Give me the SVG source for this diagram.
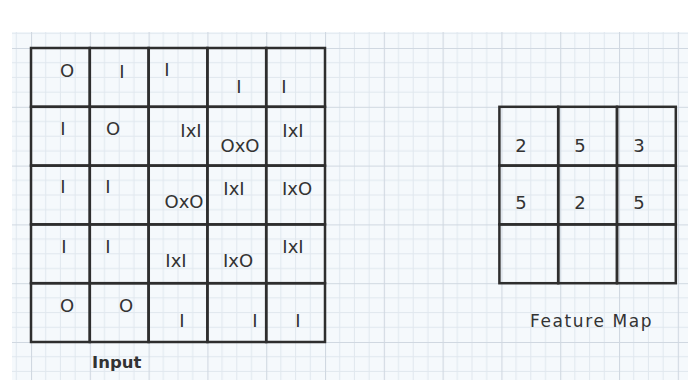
<svg xmlns="http://www.w3.org/2000/svg" width="688" height="380" viewBox="0 0 688 380">
<defs>
<pattern id="paper" x="31" y="48" width="58.8" height="58.8" patternUnits="userSpaceOnUse">
<path d="M14.7 0V58.8M29.4 0V58.8M44.1 0V58.8M0 14.7H58.8M0 29.4H58.8M0 44.1H58.8" stroke="#e0e7ee" stroke-width="1" fill="none"/>
<path d="M0.5 0V58.8M0 0.5H58.8" stroke="#d0d8e1" stroke-width="1.2" fill="none"/>
</pattern>
<style>
.cell{fill:none;stroke:#2e2e2e;stroke-width:2.5}
.t{font-family:"DejaVu Sans","Liberation Sans",sans-serif;font-size:18px;fill:#333;text-anchor:middle}
.lbl{font-family:"DejaVu Sans","Liberation Sans",sans-serif;fill:#333}
</style>
</defs>
<rect x="0" y="0" width="688" height="380" fill="#ffffff"/>
<rect x="12" y="32" width="676" height="348" fill="#f5f9fc"/>
<rect x="12" y="32" width="676" height="348" fill="url(#paper)"/>
<g id="connectors"/>
<g id="input">
<g id="in-r1c1"><rect class="cell" x="31" y="48" width="58.8" height="58.8"/><text class="t" x="67" y="77">O</text></g>
<g id="in-r1c2"><rect class="cell" x="89.8" y="48" width="58.8" height="58.8"/><text class="t" x="122" y="78">I</text></g>
<g id="in-r1c3"><rect class="cell" x="148.6" y="48" width="58.8" height="58.8"/><text class="t" x="167" y="76">I</text></g>
<g id="in-r1c4"><rect class="cell" x="207.4" y="48" width="58.8" height="58.8"/><text class="t" x="239" y="93">I</text></g>
<g id="in-r1c5"><rect class="cell" x="266.2" y="48" width="58.8" height="58.8"/><text class="t" x="284" y="93">I</text></g>
<g id="in-r2c1"><rect class="cell" x="31" y="106.8" width="58.8" height="58.8"/><text class="t" x="63" y="135">I</text></g>
<g id="in-r2c2"><rect class="cell" x="89.8" y="106.8" width="58.8" height="58.8"/><text class="t" x="113" y="135">O</text></g>
<g id="in-r2c3"><rect class="cell" x="148.6" y="106.8" width="58.8" height="58.8"/><text class="t" x="191" y="137">IxI</text></g>
<g id="in-r2c4"><rect class="cell" x="207.4" y="106.8" width="58.8" height="58.8"/><text class="t" x="240" y="152">OxO</text></g>
<g id="in-r2c5"><rect class="cell" x="266.2" y="106.8" width="58.8" height="58.8"/><text class="t" x="293" y="137">IxI</text></g>
<g id="in-r3c1"><rect class="cell" x="31" y="165.6" width="58.8" height="58.8"/><text class="t" x="63" y="193">I</text></g>
<g id="in-r3c2"><rect class="cell" x="89.8" y="165.6" width="58.8" height="58.8"/><text class="t" x="108" y="193">I</text></g>
<g id="in-r3c3"><rect class="cell" x="148.6" y="165.6" width="58.8" height="58.8"/><text class="t" x="184" y="208">OxO</text></g>
<g id="in-r3c4"><rect class="cell" x="207.4" y="165.6" width="58.8" height="58.8"/><text class="t" x="234" y="195">IxI</text></g>
<g id="in-r3c5"><rect class="cell" x="266.2" y="165.6" width="58.8" height="58.8"/><text class="t" x="297" y="195">IxO</text></g>
<g id="in-r4c1"><rect class="cell" x="31" y="224.4" width="58.8" height="58.8"/><text class="t" x="64" y="253">I</text></g>
<g id="in-r4c2"><rect class="cell" x="89.8" y="224.4" width="58.8" height="58.8"/><text class="t" x="108" y="253">I</text></g>
<g id="in-r4c3"><rect class="cell" x="148.6" y="224.4" width="58.8" height="58.8"/><text class="t" x="176" y="267">IxI</text></g>
<g id="in-r4c4"><rect class="cell" x="207.4" y="224.4" width="58.8" height="58.8"/><text class="t" x="238" y="267">IxO</text></g>
<g id="in-r4c5"><rect class="cell" x="266.2" y="224.4" width="58.8" height="58.8"/><text class="t" x="293" y="253">IxI</text></g>
<g id="in-r5c1"><rect class="cell" x="31" y="283.2" width="58.8" height="58.8"/><text class="t" x="67" y="312">O</text></g>
<g id="in-r5c2"><rect class="cell" x="89.8" y="283.2" width="58.8" height="58.8"/><text class="t" x="126" y="312">O</text></g>
<g id="in-r5c3"><rect class="cell" x="148.6" y="283.2" width="58.8" height="58.8"/><text class="t" x="182" y="327">I</text></g>
<g id="in-r5c4"><rect class="cell" x="207.4" y="283.2" width="58.8" height="58.8"/><text class="t" x="255" y="327">I</text></g>
<g id="in-r5c5"><rect class="cell" x="266.2" y="283.2" width="58.8" height="58.8"/><text class="t" x="298" y="327">I</text></g>
<text id="input-label" class="lbl" x="92" y="368" font-size="16.5" font-weight="bold">Input</text>
</g>
<g id="feature-map">
<g id="fm-r1c1"><rect class="cell" x="499.4" y="106.8" width="58.8" height="58.8"/><text class="t" x="521" y="152">2</text></g>
<g id="fm-r1c2"><rect class="cell" x="558.2" y="106.8" width="58.8" height="58.8"/><text class="t" x="580" y="152">5</text></g>
<g id="fm-r1c3"><rect class="cell" x="617" y="106.8" width="58.8" height="58.8"/><text class="t" x="639" y="152">3</text></g>
<g id="fm-r2c1"><rect class="cell" x="499.4" y="165.6" width="58.8" height="58.8"/><text class="t" x="521" y="209">5</text></g>
<g id="fm-r2c2"><rect class="cell" x="558.2" y="165.6" width="58.8" height="58.8"/><text class="t" x="580" y="209">2</text></g>
<g id="fm-r2c3"><rect class="cell" x="617" y="165.6" width="58.8" height="58.8"/><text class="t" x="639" y="209">5</text></g>
<g id="fm-r3c1"><rect class="cell" x="499.4" y="224.4" width="58.8" height="58.8"/></g>
<g id="fm-r3c2"><rect class="cell" x="558.2" y="224.4" width="58.8" height="58.8"/></g>
<g id="fm-r3c3"><rect class="cell" x="617" y="224.4" width="58.8" height="58.8"/></g>
<text id="feature-map-label" class="lbl" x="530" y="327" font-size="17" letter-spacing="1.6">Feature Map</text>
</g>
</svg>
